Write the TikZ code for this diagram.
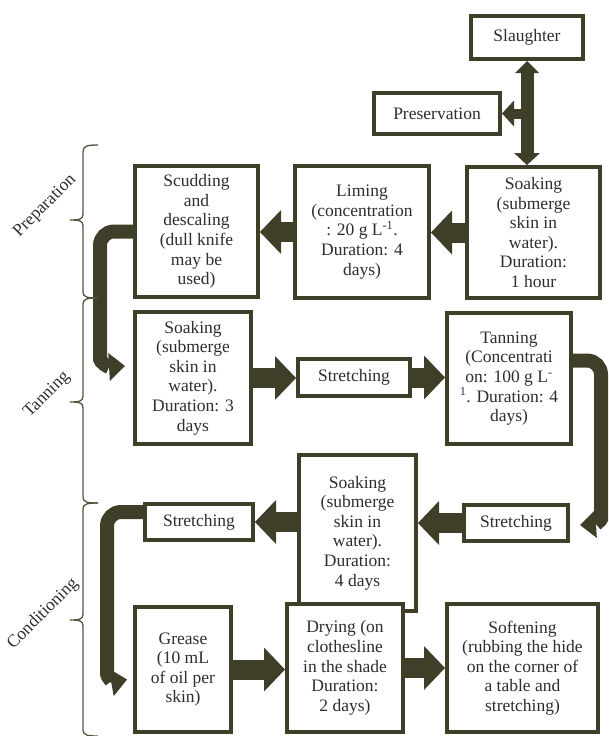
\documentclass[tikz,border=0pt]{standalone}
\usepackage{fontspec}
\setmainfont{Liberation Serif}
\usetikzlibrary{arrows.meta,calc}
\definecolor{darkol}{HTML}{3F3E29}
\definecolor{txt}{HTML}{2E2E2E}
\definecolor{bracec}{HTML}{55543F}
\begin{document}
\begin{tikzpicture}[x=1pt,y=-1pt,
  box/.style={draw=darkol, line width=4pt, fill=white, align=center, inner sep=0pt,
    text=txt, font=\fontsize{17.5}{19.6}\selectfont},
  blockarrow/.style={draw=darkol, line width=20pt,
    -{Triangle[width=44pt,length=21pt,line width=0pt]}},
  curvearrow/.style={draw=darkol, line width=14pt, rounded corners=14pt,
    -{Triangle[width=28pt,length=16pt,line width=0pt]}},
  vdarrow/.style={draw=darkol, line width=13pt,
    {Triangle[width=24pt,length=12pt,line width=0pt]}-{Triangle[width=26pt,length=12pt,line width=0pt]}},
  brancharrow/.style={draw=darkol, line width=10pt,
    -{Triangle[width=26pt,length=12pt,line width=0pt]}},
  bracestyle/.style={draw=bracec, line width=1.3pt},
  phase/.style={rotate=45, text=txt, font=\fontsize{17.5}{20}\selectfont}]
\useasboundingbox (0,0) rectangle (608,736);

% boxes
\node[box, minimum width=112pt, minimum height=43pt] (slau) at (527,37.5) {Slaughter};
\node[box, minimum width=126pt, minimum height=41pt] (pres) at (437,113.5) {Preservation};

\node[box, minimum width=123pt, minimum height=131pt] (scud) at (196.5,231.5)
  {Scudding\\and\\descaling\\(dull knife\\may be\\used)};
\node[box, minimum width=134pt, minimum height=132pt] (lim) at (362,232)
  {Liming\\(concentration\\: 20 g L\textsuperscript{-1}.\\Duration: 4\\days)};
\node[box, minimum width=133pt, minimum height=131pt] (soakA) at (533.5,232.5)
  {Soaking\\(submerge\\skin in\\water).\\Duration:\\1 hour};

\node[box, minimum width=116pt, minimum height=132pt] (soakB) at (193,378)
  {Soaking\\(submerge\\skin in\\water).\\Duration: 3\\days};
\node[box, minimum width=112pt, minimum height=37pt] (strA) at (354,377.5) {Stretching};
\node[box, minimum width=124pt, minimum height=131pt] (tan) at (509,378.5)
  {Tanning\\(Concentrati\\on: 100 g L\textsuperscript{-}\\\textsuperscript{1}. Duration: 4\\days)};

\node[box, minimum width=108pt, minimum height=36pt] (strL) at (199,522) {Stretching};
\node[box, minimum width=117pt, minimum height=156pt] (soakC) at (357.5,533)
  {Soaking\\(submerge\\skin in\\water).\\Duration:\\4 days};
\node[box, minimum width=104pt, minimum height=36pt] (strR) at (516,523) {Stretching};

\node[box, minimum width=96pt, minimum height=125pt] (grease) at (183,669.5)
  {Grease\\(10 mL\\of oil per\\skin)};
\node[box, minimum width=116pt, minimum height=128pt] (dry) at (345,668)
  {Drying (on\\clothesline\\in the shade\\Duration:\\2 days)};
\node[box, minimum width=151pt, minimum height=128pt] (soft) at (522.5,668)
  {Softening\\(rubbing the hide\\on the corner of\\a table and\\stretching)};

% top arrows
\draw[vdarrow] (slau.south) -- (slau.south |- soakA.north);
\coordinate (br) at (slau.south |- pres.east);
\draw[brancharrow] (br) -- (pres.east);

% straight block arrows
\draw[blockarrow] (soakA.west) -- (soakA.west -| lim.east);
\draw[blockarrow] (lim.west) -- (lim.west -| scud.east);
\draw[blockarrow] (soakB.east) -- (soakB.east -| strA.west);
\draw[blockarrow] (strA.east) -- (strA.east -| tan.west);
\draw[blockarrow] (strR.west) -- (strR.west -| soakC.east);
\draw[blockarrow] (strL.east -| soakC.west) -- (strL.east);
\draw[blockarrow] (grease.east) -- (grease.east -| dry.west);
\draw[blockarrow] (dry.east) -- (dry.east -| soft.west);

% curved arrows
\draw[curvearrow] (scud.west) -- (100,231.5) -- (100,345)
  .. controls (100,362) and (108,367) .. ($(soakB.west)+(-8,-12)$);
\draw[curvearrow] ($(tan.east)+(0,-18)$) -- (601,360.5) -- (601,505)
  .. controls (601,520) and (596,524) .. ($(strR.east)+(10,2)$);
\draw[curvearrow] ($(strL.west)+(0,-10)$) -- (107,512) -- (107,660)
  .. controls (107,677) and (113,682) .. ($(grease.west)+(-6,10)$);

% braces (straight spine, small hooks, pointed middle)
\draw[bracestyle] (98,145) .. controls (87,145) and (83,146) .. (83,152)
  -- (83,214) .. controls (83,219) and (80,220) .. (70,220)
  .. controls (80,220) and (83,221) .. (83,226)
  -- (83,292) .. controls (83,297) and (87,298) .. (98,298);
\draw[bracestyle] (98,298) .. controls (87,298) and (83,299) .. (83,304)
  -- (83,396) .. controls (83,401) and (80,402) .. (70,402)
  .. controls (80,402) and (83,403) .. (83,408)
  -- (83,497) .. controls (83,502) and (87,503) .. (98,503);
\draw[bracestyle] (98,503) .. controls (87,503) and (83,504) .. (83,509)
  -- (83,614) .. controls (83,619) and (80,620) .. (70,620)
  .. controls (80,620) and (83,621) .. (83,626)
  -- (83,730) .. controls (83,735) and (87,736) .. (98,736);

\node[phase] (lprep) at (45,206) {Preparation};
\node[phase] (ltan) at (47,395) {Tanning};
\node[phase] (lcond) at (43,614) {Conditioning};
\end{tikzpicture}
\end{document}
